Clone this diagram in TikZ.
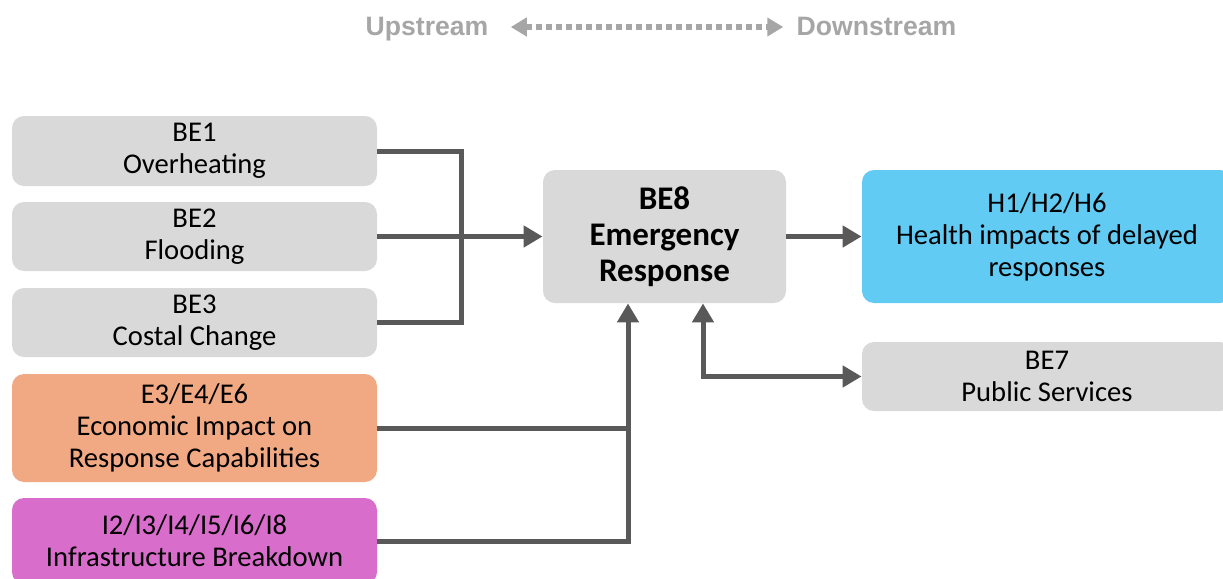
\documentclass[tikz,border=0pt]{standalone}
\usepackage{fontspec}
\setmainfont{Carlito}
\newfontfamily\headfont{Liberation Sans}
\usetikzlibrary{arrows.meta}
\definecolor{boxgray}{HTML}{D9D9D9}
\definecolor{econorange}{HTML}{F1A983}
\definecolor{infrapink}{HTML}{D86DCB}
\definecolor{healthblue}{HTML}{61CBF3}
\definecolor{linkgray}{HTML}{595959}
\definecolor{headgray}{HTML}{A6A6A6}
\tikzset{
  risk box/.style={
    rectangle,rounded corners=6pt,fill=#1,inner sep=2pt,align=center,
    font=\fontsize{14.3}{16}\selectfont,minimum width=182.5pt
  },
  link/.style={draw=linkgray,line width=2.5pt},
  linktip/.tip={Triangle[length=9.5pt,width=10.5pt]},
  head text/.style={inner sep=0pt,anchor=base,text height=10pt,text depth=2pt,
    text=headgray,font=\headfont\bfseries\fontsize{13.3}{15}\selectfont}
}
\begin{document}
\begin{tikzpicture}[x=0.5pt,y=-0.5pt]
  \useasboundingbox (0,0) rectangle (1223,579);
  % direction key
  \node[head text] (up) at (427,35) {Upstream};
  \node[head text] (down) at (876.5,35) {Downstream};
  \draw[headgray,line width=3pt,dash pattern=on 3pt off 2pt,
    {Triangle[length=8pt,width=9pt]}-{Triangle[length=8pt,width=9pt]},
    shorten <=11pt,shorten >=6.5pt] (up.east)--(down.west);
  % drivers
  \node[risk box=boxgray,minimum height=35pt] (be1) at (194.5,151) {BE1\\Overheating};
  \node[risk box=boxgray,minimum height=34.5pt] (be2) at (194.5,236.5) {BE2\\Flooding};
  \node[risk box=boxgray,minimum height=34.5pt] (be3) at (194.5,322.5) {BE3\\Costal Change};
  \node[risk box=econorange,minimum height=54pt] (econ) at (194.5,428) {E3/E4/E6\\Economic Impact on\\Response Capabilities};
  \node[risk box=infrapink,minimum height=43pt] (infra) at (194.5,541) {I2/I3/I4/I5/I6/I8\\Infrastructure Breakdown};
  % centre and outcomes
  \node[risk box=boxgray,minimum width=121.5pt,minimum height=66.5pt,
    font=\bfseries\fontsize{16.5}{18}\selectfont] (be8) at (664.5,236.5) {BE8\\Emergency\\Response};
  \node[risk box=healthblue,minimum width=185pt,minimum height=66.5pt] (health) at (1047,236.5) {H1/H2/H6\\Health impacts of delayed\\responses};
  \node[risk box=boxgray,minimum width=185pt,minimum height=34.5pt] (be7) at (1047,376.5) {BE7\\Public Services};
  % connectors
  \coordinate (merge) at (461,236.5);
  \coordinate (feed) at ([xshift=-18.25pt]be8.south);
  \coordinate (svc) at ([xshift=19.25pt]be8.south);
  \draw[link] (be1.east) -| (merge) |- (be3.east);
  \draw[link,-linktip] (be2.east) -- (be8.west);
  \draw[link,-linktip] (infra.east) -| (feed);
  \draw[link] (econ.east) -- (econ.east -| feed);
  \draw[link,-linktip] (be8.east) -- (health.west);
  \draw[link,linktip-linktip] (svc) |- (be7.west);
\end{tikzpicture}
\end{document}
